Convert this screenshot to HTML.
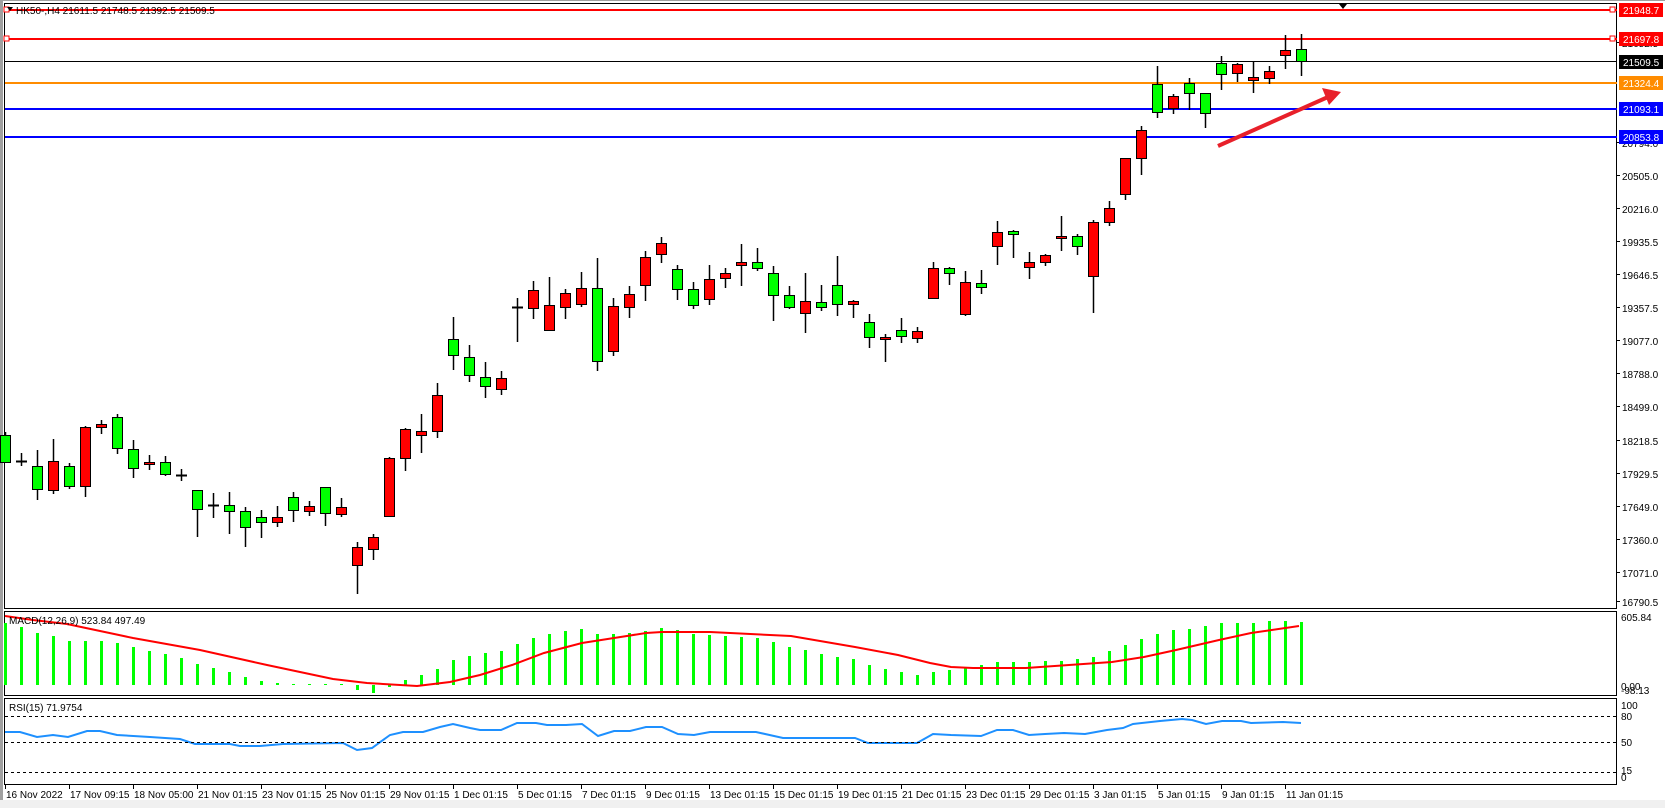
<!DOCTYPE html>
<html><head><meta charset="utf-8"><style>
html,body{margin:0;padding:0;background:#fff;}
body{width:1665px;height:808px;overflow:hidden;position:relative;font-family:"Liberation Sans",sans-serif;}
svg{position:absolute;left:0;top:0;}
text{font-family:"Liberation Sans",sans-serif;font-size:10px;}
</style></head><body>
<svg id="s" width="1665" height="808" viewBox="0 0 1665 808">
<rect x="0" y="0" width="1665" height="808" fill="#fff"/>
<rect x="0" y="0" width="3" height="808" fill="#a0a0a0"/>
<rect x="0" y="800" width="1665" height="8" fill="#f0f0f0"/>
<line x1="3" y1="0.5" x2="1665" y2="0.5" stroke="#a0a0a0"/>
<rect x="4.5" y="3.5" width="1612" height="605" fill="none" stroke="#000"/>
<rect x="4.5" y="611.5" width="1612" height="84" fill="none" stroke="#000"/>
<rect x="4.5" y="698.5" width="1612" height="86" fill="none" stroke="#000"/>
<g id="grid"></g>
<line x1="5" y1="10" x2="1617" y2="10" stroke="#ff0000" stroke-width="2"/>
<line x1="5" y1="39" x2="1617" y2="39" stroke="#ff0000" stroke-width="2"/>
<rect x="4" y="7" width="5" height="5" fill="#fff" stroke="#f00"/>
<rect x="1610" y="7" width="5" height="5" fill="#fff" stroke="#f00"/>
<rect x="4" y="36" width="5" height="5" fill="#fff" stroke="#f00"/>
<rect x="1610" y="36" width="5" height="5" fill="#fff" stroke="#f00"/>
<line x1="5" y1="61.5" x2="1617" y2="61.5" stroke="#000" stroke-width="1"/>
<line x1="5" y1="83" x2="1617" y2="83" stroke="#ff8c00" stroke-width="2"/>
<line x1="5" y1="109" x2="1617" y2="109" stroke="#0000ff" stroke-width="2"/>
<line x1="5" y1="137" x2="1617" y2="137" stroke="#0000ff" stroke-width="2"/>
<polygon points="1339,4 1347,4 1343,9" fill="#000"/>
<g id="candles"></g>
<g id="macd"></g>
<g id="rsi"></g>
<line x1="1218" y1="146" x2="1328" y2="97" stroke="#e8202a" stroke-width="4"/>
<polygon points="1341,92 1322,88 1329,105" fill="#e8202a"/>
<polygon points="7,7 13,7 10,11" fill="#000"/>
<text x="16" y="14">HK50-,H4  21611.5 21748.5 21392.5 21509.5</text>
<g fill="#000">
<text x="1622" y="47">21652.5</text>
<text x="1622" y="147">20794.0</text>
<text x="1622" y="180">20505.0</text>
<text x="1622" y="213">20216.0</text>
<text x="1622" y="246">19935.5</text>
<text x="1622" y="279">19646.5</text>
<text x="1622" y="312">19357.5</text>
<text x="1622" y="345">19077.0</text>
<text x="1622" y="378">18788.0</text>
<text x="1622" y="411">18499.0</text>
<text x="1622" y="445">18218.5</text>
<text x="1622" y="478">17929.5</text>
<text x="1622" y="511">17649.0</text>
<text x="1622" y="544">17360.0</text>
<text x="1622" y="577">17071.0</text>
<text x="1622" y="606">16790.5</text>
</g>
<rect x="1619" y="3" width="44" height="14" fill="#ff0000"/><text x="1623" y="14" fill="#fff">21948.7</text>
<rect x="1619" y="32" width="44" height="14" fill="#ff0000"/><text x="1623" y="43" fill="#fff">21697.8</text>
<rect x="1619" y="55" width="44" height="14" fill="#000"/><text x="1623" y="66" fill="#fff">21509.5</text>
<rect x="1619" y="76" width="44" height="14" fill="#ff8c00"/><text x="1623" y="87" fill="#fff">21324.4</text>
<rect x="1619" y="102" width="44" height="14" fill="#0000ff"/><text x="1623" y="113" fill="#fff">21093.1</text>
<rect x="1619" y="130" width="44" height="14" fill="#0000ff"/><text x="1623" y="141" fill="#fff">20853.8</text>
<text x="9" y="624">MACD(12,26,9) 523.84 497.49</text>
<text x="1621" y="621">605.84</text>
<text x="1621" y="690">0.00</text>
<text x="1621" y="694">-98.13</text>
<text x="9" y="711">RSI(15) 71.9754</text>
<text x="1621" y="709">100</text>
<text x="1621" y="720">80</text>
<text x="1621" y="746">50</text>
<text x="1621" y="774">15</text>
<text x="1621" y="781">0</text>
<line x1="5" y1="716.5" x2="1617" y2="716.5" stroke="#000" stroke-dasharray="3,3"/>
<line x1="5" y1="742.5" x2="1617" y2="742.5" stroke="#000" stroke-dasharray="3,3"/>
<line x1="5" y1="772.5" x2="1617" y2="772.5" stroke="#000" stroke-dasharray="3,3"/>
<g fill="#000">
<text x="6" y="798">16 Nov 2022</text>
<text x="70" y="798">17 Nov 09:15</text>
<text x="134" y="798">18 Nov 05:00</text>
<text x="198" y="798">21 Nov 01:15</text>
<text x="262" y="798">23 Nov 01:15</text>
<text x="326" y="798">25 Nov 01:15</text>
<text x="390" y="798">29 Nov 01:15</text>
<text x="454" y="798">1 Dec 01:15</text>
<text x="518" y="798">5 Dec 01:15</text>
<text x="582" y="798">7 Dec 01:15</text>
<text x="646" y="798">9 Dec 01:15</text>
<text x="710" y="798">13 Dec 01:15</text>
<text x="774" y="798">15 Dec 01:15</text>
<text x="838" y="798">19 Dec 01:15</text>
<text x="902" y="798">21 Dec 01:15</text>
<text x="966" y="798">23 Dec 01:15</text>
<text x="1030" y="798">29 Dec 01:15</text>
<text x="1094" y="798">3 Jan 01:15</text>
<text x="1158" y="798">5 Jan 01:15</text>
<text x="1222" y="798">9 Jan 01:15</text>
<text x="1286" y="798">11 Jan 01:15</text>
</g>
</svg>
<script>
var NS="http://www.w3.org/2000/svg";
function el(p,t,a){var e=document.createElementNS(NS,t);for(var k in a)e.setAttribute(k,a[k]);p.appendChild(e);return e;}
var C=[
['g',435,462,432,463],['d',461,461,453,466],['g',466,489,450,500],['r',461,490,439,494],['g',466,486,463,489],
['r',427,486,426,497],['r',424,427,420,434],['g',417,448,414,454],['g',449,468,440,478],['r',462,464,455,470],
['g',462,474,456,476],['d',475,475,469,481],['g',490,509,490,537],['d',505,505,493,518],['g',505,511,492,534],
['g',511,527,507,547],['g',517,522,510,538],['r',517,522,506,527],['g',497,510,492,522],['r',506,511,501,516],
['g',487,513,487,526],['r',507,514,498,517],['r',547,565,542,594],['r',537,549,534,560],['r',458,516,457,517],
['r',429,458,428,471],['r',431,435,414,453],['r',395,431,383,438],['g',339,355,317,370],['g',357,375,345,382],
['g',377,386,362,398],['r',378,389,371,395],['d',307,307,298,342],['r',290,308,281,319],['r',305,330,277,330],
['r',293,307,289,319],['r',288,304,272,307],['g',288,361,258,371],['r',306,351,298,356],['r',294,307,286,318],
['r',257,285,251,301],['r',243,254,237,263],['g',269,289,265,300],['g',289,305,282,309],['r',279,299,265,305],
['r',273,278,268,288],['r',262,265,244,286],['g',262,268,248,271],['g',273,295,266,321],['g',295,307,286,309],
['r',301,313,273,333],['g',302,307,285,311],['g',285,304,256,316],['r',301,304,300,318],['g',322,337,314,348],
['r',337,339,334,362],['g',330,336,318,343],['r',331,338,327,343],['r',268,298,262,298],['g',268,273,267,285],
['r',282,314,271,316],['g',283,287,270,294],['r',232,246,221,265],['g',231,234,230,258],['r',262,267,252,279],
['r',255,262,254,266],['r',236,238,216,251],['g',236,246,234,255],['r',222,276,220,313],['r',208,222,201,226],
['r',158,194,158,200],['r',130,158,126,175],['g',84,112,66,118],['r',96,108,94,114],['g',83,93,78,110],
['g',93,113,93,128],['g',63,74,56,90],['r',64,73,63,82],['r',77,80,61,93],['r',71,78,66,84],
['r',50,55,35,69],['g',49,61,34,76]];
var g=document.getElementById('candles');
C.forEach(function(c,i){var x=Math.round(5.3+16*i);
 el(g,'line',{x1:x+0.5,y1:c[3],x2:x+0.5,y2:c[4],stroke:'#000','stroke-width':1.5});
 if(c[0]=='d'){el(g,'line',{x1:x-5,y1:c[1]+0.5,x2:x+6,y2:c[1]+0.5,stroke:'#000','stroke-width':2});}
 else{var h=Math.max(c[2]-c[1],2);el(g,'rect',{x:x-4.5,y:c[1]+0.5,width:10,height:h,fill:c[0]=='g'?'#00ff00':'#ff0000',stroke:'#000','stroke-width':1});}
});
var H=[623,627,633,636,641,641,641,643,647,651,654,658,664,668,672,677,681,683,684,684,684,684,690,693,687,680,675,669,660,656,
653,651,644,638,634,631,629,634,634,633,631,628,630,634,635,636,637,638,642,647,650,654,657,659,665,669,672,675,672,670,
668,665,662,662,662,661,661,659,657,651,645,639,634,630,629,626,623,623,623,621,621,622];
var m=document.getElementById('macd');
H.forEach(function(t,i){var x=Math.round(5.3+16*i);var y1=Math.min(t,685),y2=Math.max(t,685);if(y2-y1<1)y2=y1+1;
 el(m,'rect',{x:x-1,y:y1,width:3,height:y2-y1,fill:'#00ff00'});});
var S=[[5,616],[33,620],[67,624],[133,638],[200,650],[267,665],[333,679],[367,683],[417,686],[450,682],[480,675],[512,665],[544,653],[582,643],[614,638],[646,633],[662,632],[710,632],[791,636],[855,647],[898,655],[930,663],[951,667],[973,668],[1026,668],[1069,665],[1112,662],[1144,657],[1176,650],[1219,640],[1251,633],[1299,626]];
el(m,'polyline',{points:S.map(function(p){return p.join(',')}).join(' '),fill:'none',stroke:'#ff0000','stroke-width':2});
var R=[[5,732],[20,732],[37,737],[53,735],[68,737],[87,731],[100,731],[117,735],[150,737],[180,739],[195,744],[230,744],[240,746],[260,746],[283,744],[343,743],[357,750],[372,748],[390,735],[403,732],[423,732],[440,727],[453,724],[470,728],[480,730],[501,730],[517,723],[536,723],[547,725],[566,725],[582,724],[598,736],[614,731],[630,731],[646,727],[662,727],[678,734],[694,735],[710,732],[756,732],[783,738],[855,738],[868,743],[917,743],[933,734],[951,735],[981,736],[997,730],[1013,730],[1029,735],[1045,734],[1064,733],[1085,734],[1107,730],[1123,728],[1133,724],[1160,721],[1182,719],[1192,720],[1206,724],[1222,721],[1241,721],[1251,723],[1283,722],[1301,723]];
el(document.getElementById('rsi'),'polyline',{points:R.map(function(p){return p.join(',')}).join(' '),fill:'none',stroke:'#1e90ff','stroke-width':2});
var gr=document.getElementById('grid');
for(var k=0;k<21;k++){var x=5+64*k;el(gr,'line',{x1:x+0.5,y1:785,x2:x+0.5,y2:789,stroke:'#000'});}
[47,147,180,213,246,279,312,345,378,411,445,478,511,544,577,606].forEach(function(y){el(gr,'line',{x1:1617,y1:y-4.5,x2:1620,y2:y-4.5,stroke:'#000'});});
</script>
</body></html>
